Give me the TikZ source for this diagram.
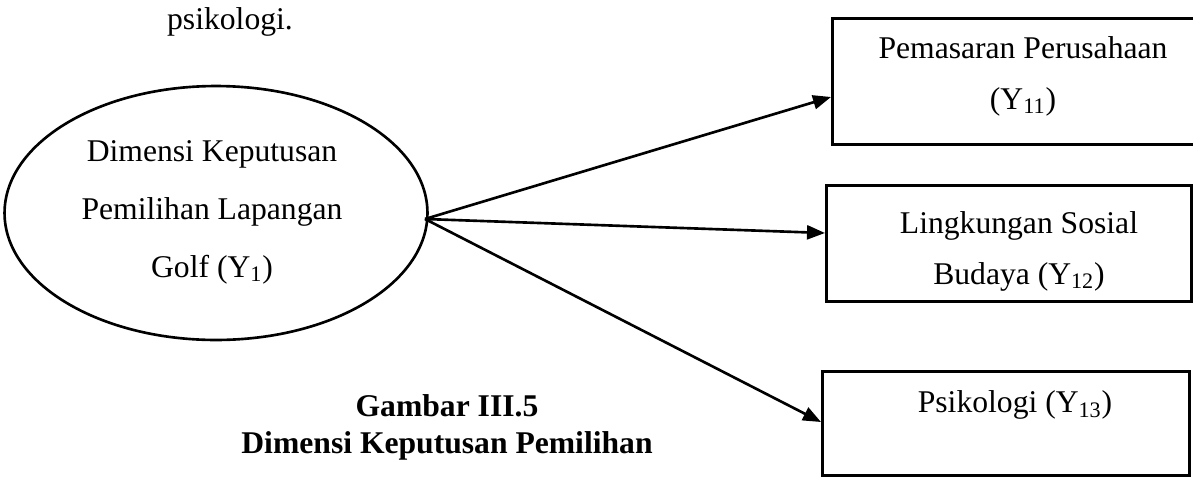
\documentclass[tikz,border=0pt]{standalone}
\usepackage{fontspec}
\setmainfont{Liberation Serif}
\usetikzlibrary{shapes.geometric,arrows.meta}
\begin{document}
\begin{tikzpicture}[x=0.02cm,y=-0.02cm,
  box/.style={draw, line width=1.6pt, rectangle, inner sep=0pt, anchor=north west},
  latent/.style={draw, line width=1.5pt, ellipse, inner sep=0pt,
                 minimum width=8.46cm, minimum height=5.08cm},
  lbl/.style={font=\fontsize{18}{29}\selectfont, align=center, inner sep=0pt},
  elbl/.style={font=\fontsize{18}{33}\selectfont, align=center, inner sep=0pt},
  captiontext/.style={font=\fontsize{18}{21}\selectfont\bfseries, align=center, inner sep=0pt},
  conn/.style={line width=1.5pt, -{Triangle[length=0.36cm,width=0.28cm]}}]
\useasboundingbox (0,0) rectangle (1193,484);
\clip (0,0) rectangle (1193,484);

% text carried over from the paragraph above the figure
\node[lbl] (prev) at (230,22) {psikologi.};

% latent construct
\node[latent] (ell) at (216,213) {};
\node[elbl] (ellt) at (212,212) {Dimensi Keputusan\\Pemilihan Lapangan\\Golf (Y\textsubscript{1})};

% indicator boxes
\node[box, minimum width=7.58cm, minimum height=2.52cm] (b1) at (831,17) {};
\node[box, minimum width=7.30cm, minimum height=2.32cm] (b2) at (825,184) {};
\node[box, minimum width=7.34cm, minimum height=2.08cm] (b3) at (821,370) {};

\node[lbl] (b1t) at (1023,76) {Pemasaran Perusahaan\\(Y\textsubscript{11})};
\node[lbl] (b2t) at (1019,251) {Lingkungan Sosial\\Budaya (Y\textsubscript{12})};
\node[lbl] (b3t) at (1015,405) {Psikologi (Y\textsubscript{13})};

% connectors
\coordinate (src) at (425,219);
\path (b1.north west) ++(0,80) coordinate (t1);
\path (b2.north west) ++(0,49) coordinate (t2);
\path (b3.north west) ++(0,52) coordinate (t3);
\draw[conn] (src) -- (t1);
\draw[conn] (src) -- (t2);
\draw[conn] (src) -- (t3);

% caption
\node[captiontext] (capt) at (447,427) {Gambar III.5\\Dimensi Keputusan Pemilihan};
\end{tikzpicture}
\end{document}
